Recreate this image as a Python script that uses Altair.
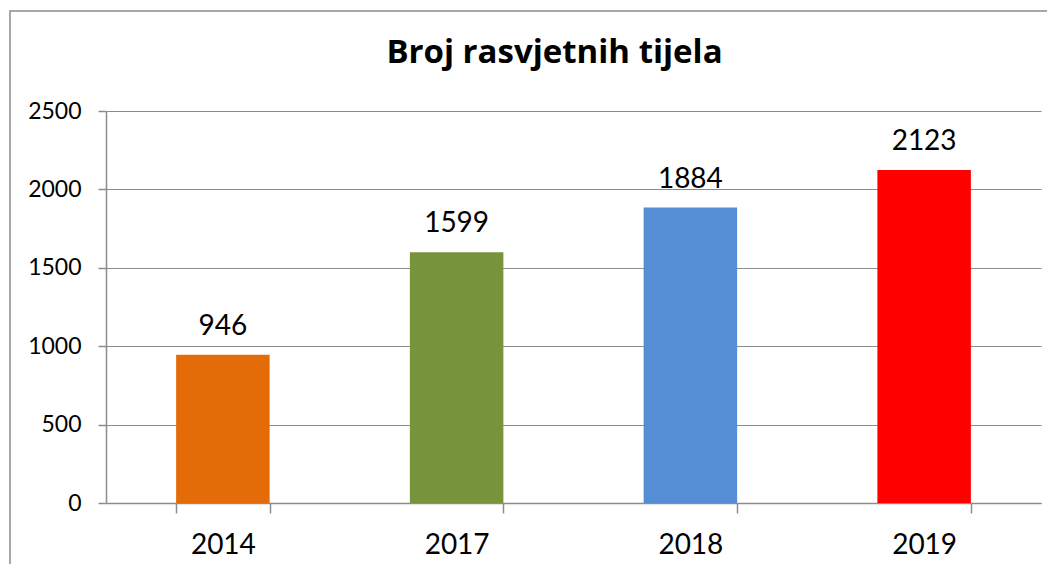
import altair as alt
import pandas as pd

years = ["2014", "2017", "2018", "2019"]
values = [946, 1599, 1884, 2123]
colors = ["#E36C09", "#77933C", "#558ED5", "#FF0000"]

df = pd.DataFrame({"year": years, "value": values, "color": colors})

FONT = "Lato"
GRAY = "#8c8c8c"

x_enc = alt.X(
    "year:N",
    sort=years,
    scale=alt.Scale(paddingInner=0.6, paddingOuter=0.3),
    axis=alt.Axis(
        title=None, labelAngle=0, tickBand="extent", grid=False,
        domainColor=GRAY, tickColor=GRAY, tickSize=10, domainWidth=1.5, tickWidth=1.5,
        labelFontSize=28, labelFont=FONT, labelColor="#000000", labelPadding=18,
    ),
)
y_enc = alt.Y(
    "value:Q",
    scale=alt.Scale(domain=[0, 2500], nice=False),
    axis=alt.Axis(
        title=None, values=[0, 500, 1000, 1500, 2000, 2500], format="d",
        grid=True, gridColor=GRAY, gridWidth=1.2,
        domainColor=GRAY, tickColor=GRAY, tickSize=8, domainWidth=1.5, tickWidth=1.5,
        labelFontSize=23, labelFont=FONT, labelColor="#000000", labelPadding=17,
    ),
)

bars = alt.Chart(df).mark_bar().encode(
    x=x_enc,
    y=y_enc,
    color=alt.Color("color:N", scale=None, legend=None),
)

labels = alt.Chart(df).mark_text(
    dy=-20, baseline="alphabetic", fontSize=28, font=FONT, color="#000000"
).encode(
    x=alt.X("year:N", sort=years),
    y=alt.Y("value:Q"),
    text=alt.Text("value:Q"),
)

border = alt.Chart(pd.DataFrame({"a": [0]})).mark_rect(
    fill=None, stroke=GRAY, strokeWidth=1.5
).encode(
    x=alt.value(-96), x2=alt.value(1200),
    y=alt.value(-100), y2=alt.value(700),
)

chart = alt.layer(border, bars, labels).properties(
    width=935,
    height=392,
    autosize=alt.AutoSizeParams(type="none"),
    padding={"left": 98, "top": 103, "right": 6, "bottom": 61},
    title=alt.Title(
        "Broj rasvjetnih tijela", font="Open Sans", fontSize=33, fontWeight="bold",
        color="#000000", anchor="middle", dx=-19, offset=-85.75,
        baseline="alphabetic",
    ),
).configure_view(strokeWidth=0)

chart.save("out.html", embed_options={"renderer": "svg", "actions": False})
